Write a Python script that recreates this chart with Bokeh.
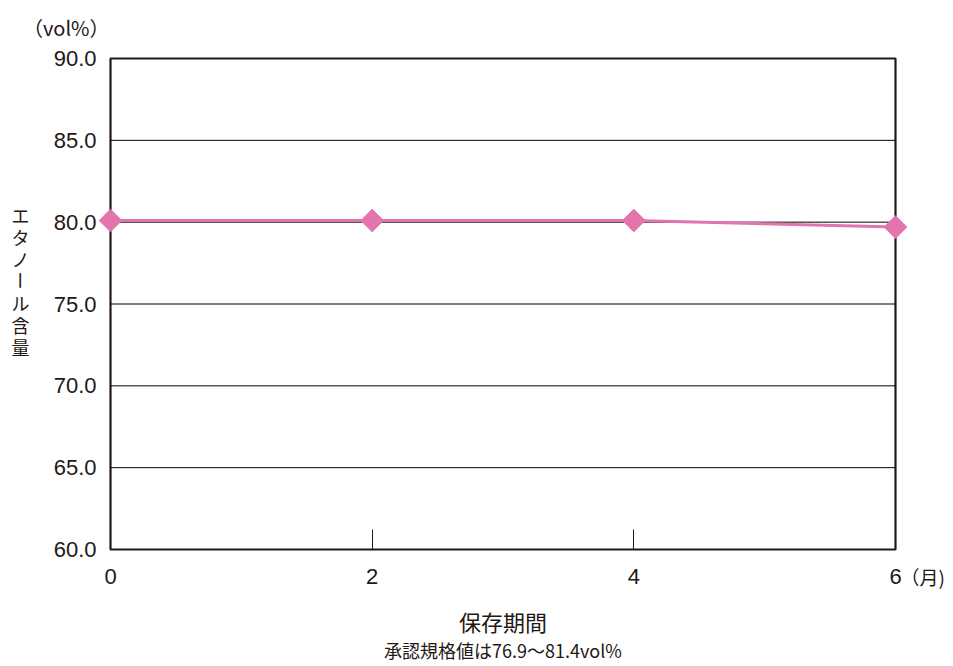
import math
from bokeh.plotting import figure
from bokeh.models import (Range1d, FixedTicker, Label, NumeralTickFormatter,
                          LinearAxis, BoxAnnotation)
from bokeh.embed import file_html
from bokeh.resources import INLINE

# ---- data ----
months = [0, 2, 4, 6]
ethanol = [80.1, 80.1, 80.1, 79.7]
x_ticks = [0, 2, 4, 6]
y_ticks = [60, 65, 70, 75, 80, 85, 90]
y_label_chars = ["エ", "タ", "ノ", "ー", "ル", "含", "量"]
x_title = "保存期間"
x_unit = "（月)"
y_unit = "（vol%）"
footnote = "承認規格値は76.9～81.4vol%"

LATIN = "Liberation Sans"
CJK = "Noto Sans CJK JP"
PINK = "#E374AE"
DARK = "#231815"

# ---- layout (pixels) ----
W, H = 950, 664
BOX_L, BOX_R, BOX_T, BOX_B = 110, 895, 58, 549

x0, x1 = x_ticks[0], x_ticks[-1]
y0, y1 = y_ticks[0], y_ticks[-1]
kx = (BOX_R - BOX_L) / (x1 - x0)
ky = (BOX_B - BOX_T) / (y1 - y0)
xr = Range1d(x0 - BOX_L / kx, x1 + (W - BOX_R) / kx)
yr = Range1d(y0 - (H - BOX_B) / ky, y1 + BOX_T / ky)

p = figure(width=W, height=H, output_backend="svg", toolbar_location=None,
           x_range=xr, y_range=yr, x_axis_location=None, y_axis_location=None,
           min_border=0)
p.outline_line_color = None
p.background_fill_color = "white"
p.border_fill_color = "white"
p.grid.visible = False

# horizontal grid lines (inside the box only)
inner = y_ticks[1:-1]
p.segment(x0=[x0] * len(inner), x1=[x1] * len(inner), y0=inner, y1=inner,
          line_color="black", line_width=1)

# frame box
p.add_layout(BoxAnnotation(left=x0, right=x1, bottom=y0, top=y1,
                           fill_alpha=0, line_color=DARK, line_alpha=1.0,
                           line_width=2.2, level="underlay"))

# x axis (fixed at bottom of box)
xa = LinearAxis(fixed_location=y0, ticker=FixedTicker(ticks=x_ticks), bounds=(x0, x1))
xa.axis_line_color = None
xa.major_tick_in = 20
xa.major_tick_out = 0
xa.major_tick_line_color = DARK
xa.major_tick_line_width = 1
xa.minor_tick_line_color = None
xa.major_label_text_font = LATIN
xa.major_label_text_font_size = "22px"
xa.major_label_text_color = DARK
xa.major_label_standoff = 19
p.add_layout(xa, "below")

# y axis (fixed at left of box)
ya = LinearAxis(fixed_location=x0, ticker=FixedTicker(ticks=y_ticks), bounds=(y0, y1))
ya.formatter = NumeralTickFormatter(format="0.0")
ya.axis_line_color = None
ya.major_tick_in = 0
ya.major_tick_out = 0
ya.minor_tick_line_color = None
ya.major_label_text_font = LATIN
ya.major_label_text_font_size = "22px"
ya.major_label_text_color = DARK
ya.major_label_standoff = 14
p.add_layout(ya, "left")

# data
p.line(months, ethanol, line_color=PINK, line_width=3)
p.scatter(months, ethanol, marker="square", angle=math.pi / 4, size=16,
          fill_color=PINK, line_color=PINK)

# unit labels
p.add_layout(Label(x=x0, y=y1, text=y_unit, text_align="right", text_baseline="middle",
                   x_offset=-1, y_offset=31, text_font=CJK, text_font_size="20px",
                   text_color=DARK))
p.add_layout(Label(x=x1, y=y0, text=x_unit, text_align="left", text_baseline="middle",
                   x_offset=5, y_offset=-27, text_font=CJK, text_font_size="19px",
                   text_color=DARK))

# vertical y-axis title
for i, ch in enumerate(y_label_chars):
    p.add_layout(Label(x=x0, y=y1, text=ch, text_align="center", text_baseline="middle",
                       x_offset=-90, y_offset=-156 - 22 * i,
                       angle=(-math.pi / 2 if ch == "ー" else 0),
                       text_font=CJK, text_font_size="18px", text_color=DARK))

# x-axis title and footnote
xc = (x0 + x1) / 2
p.add_layout(Label(x=xc, y=y0, text=x_title, text_align="center", text_baseline="middle",
                   y_offset=-71, text_font=CJK, text_font_size="22px", text_color=DARK))
p.add_layout(Label(x=xc, y=y0, text=footnote, text_align="center", text_baseline="middle",
                   y_offset=-100, text_font=CJK, text_font_size="18px", text_color=DARK))

open("out.html", "w").write(file_html(p, INLINE))
